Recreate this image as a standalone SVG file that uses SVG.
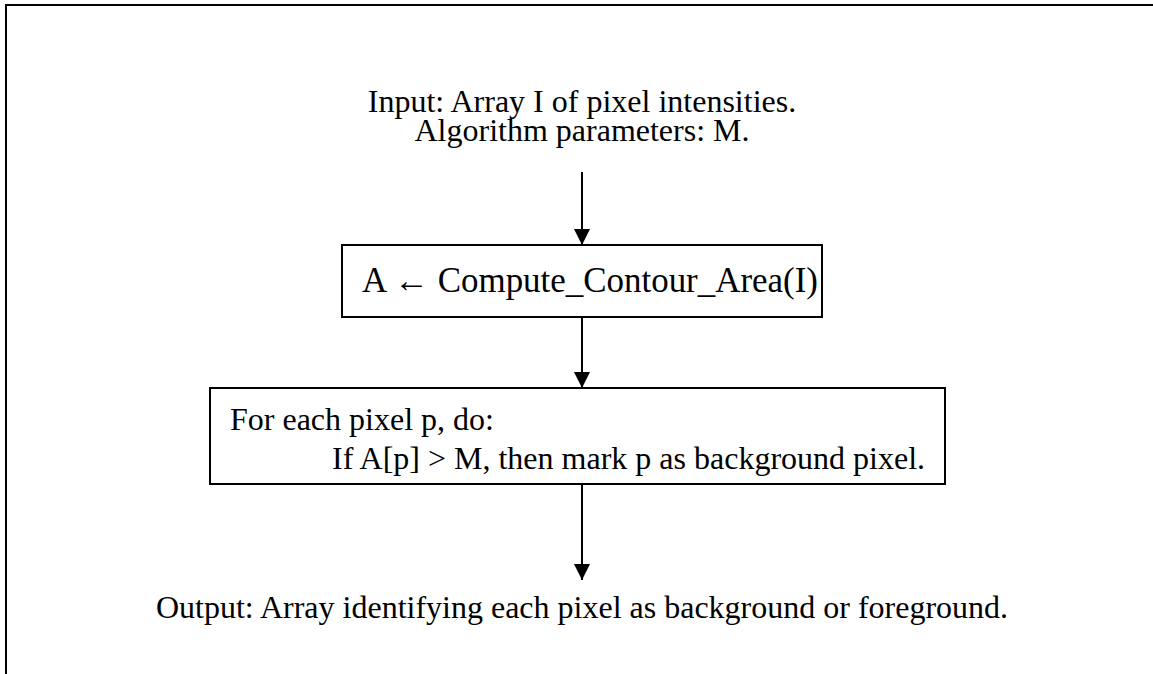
<svg xmlns="http://www.w3.org/2000/svg" width="1153" height="674" viewBox="0 0 1153 674">
<style>
text{font-family:"Liberation Serif","Times New Roman",serif;font-size:32px;fill:#000}
.big{font-size:35px}
.box{fill:#fff;stroke:#000;stroke-width:2}
.ln{stroke:#000;stroke-width:2;fill:none}
</style>
<defs>
<marker id="ah" markerWidth="8" markerHeight="8" refX="8" refY="4" orient="auto" markerUnits="strokeWidth">
<path d="M0,0 L8,4 L0,8 Z" fill="#000"/>
</marker>
</defs>
<rect width="1153" height="674" fill="#fff"/>
<g id="frame"><path class="ln" d="M6,674 V5 H1153"/></g>
<g id="input"><text x="582" y="112" text-anchor="middle">Input: Array I of pixel intensities.</text>
<text x="582" y="141" text-anchor="middle">Algorithm parameters: M.</text></g>
<g id="box1"><rect class="box" x="342" y="245" width="480" height="72"/>
<text class="big" x="362" y="292" textLength="456" lengthAdjust="spacingAndGlyphs">A ← Compute_Contour_Area(I)</text></g>
<g id="box2"><rect class="box" x="210" y="388" width="735" height="96"/>
<text x="230" y="430">For each pixel p, do:</text>
<text x="332" y="469">If A[p] &gt; M, then mark p as background pixel.</text></g>
<g id="output"><text x="582" y="618" text-anchor="middle">Output: Array identifying each pixel as background or foreground.</text></g>
<g id="connectors">
<line class="ln" x1="582" y1="172" x2="582" y2="245" marker-end="url(#ah)"/>
<line class="ln" x1="582" y1="317" x2="582" y2="388" marker-end="url(#ah)"/>
<line class="ln" x1="582" y1="484" x2="582" y2="580" marker-end="url(#ah)"/>
</g>
</svg>
